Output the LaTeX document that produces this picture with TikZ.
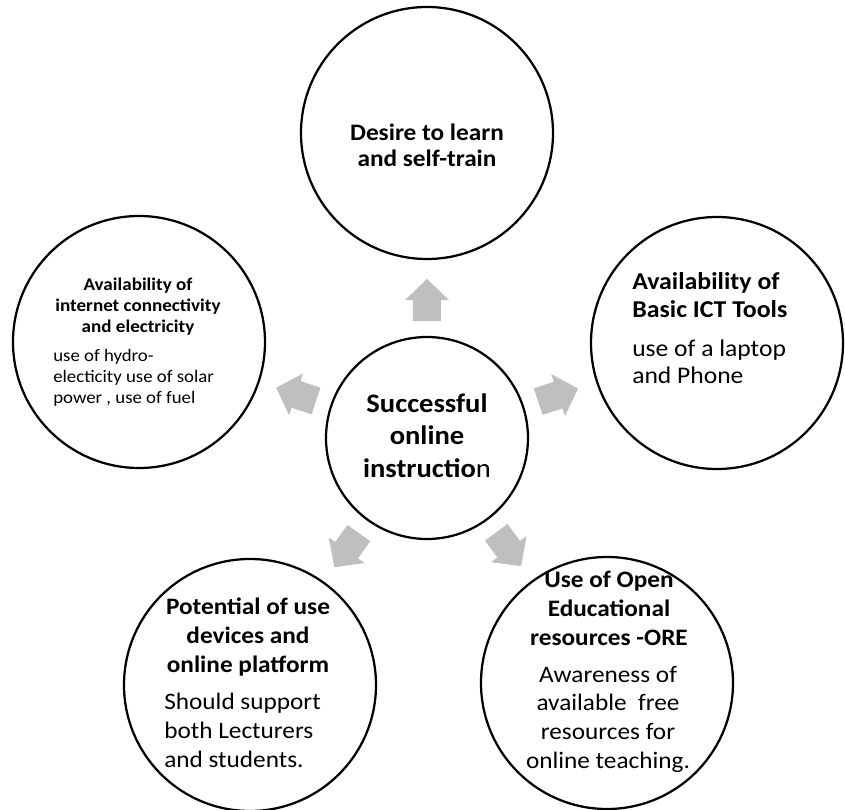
\documentclass[tikz,border=0pt]{standalone}
\usepackage{fontspec}
\setmainfont[FakeStretch=1.07]{Carlito}
\usetikzlibrary{calc}

\begin{document}
\begin{tikzpicture}
\tikzstyle{bubble} = [circle, draw = black, line width = 1.6pt, minimum size = 6.3cm, inner sep = 0pt]
\tikzstyle{spoke} = [fill = gray!50, to path = {
  ($(\tikztostart)!2.925cm!(\tikztotarget)!0.35cm!90:(\tikztotarget)$)
  -- ($(\tikztostart)!3.45cm!(\tikztotarget)!0.35cm!90:(\tikztotarget)$)
  -- ($(\tikztostart)!3.45cm!(\tikztotarget)!0.55cm!90:(\tikztotarget)$)
  -- ($(\tikztostart)!3.975cm!(\tikztotarget)$)
  -- ($(\tikztostart)!3.45cm!(\tikztotarget)!0.55cm!-90:(\tikztotarget)$)
  -- ($(\tikztostart)!3.45cm!(\tikztotarget)!0.35cm!-90:(\tikztotarget)$)
  -- ($(\tikztostart)!2.925cm!(\tikztotarget)!0.35cm!-90:(\tikztotarget)$) -- cycle}]
\tikzstyle{head} = [inner sep = 0pt, align = center, font = \bfseries\fontsize{16.8}{20.3}\selectfont]
\tikzstyle{body} = [inner sep = 0pt, align = left, font = \fontsize{16.8}{20.3}\selectfont]
\useasboundingbox (-10.675,-9.275) rectangle (10.45,10.95);
% the hub and the five circles round it
\node[bubble, minimum size = 5.05cm](hub){};
\node[bubble, above of = hub, yshift = 6.625cm](desire){};
\node[bubble, right of = hub, xshift = 6.25cm, yshift = 2.375cm](ictTools){};
\node[bubble, left of = hub, xshift = -6.2cm, yshift = 2.4cm](connect){};
\node[bubble, below of = hub, xshift = -4.425cm, yshift = -5.175cm](devices){};
\node[bubble, below of = hub, xshift = 4.5cm, yshift = -5.125cm](ore){};
% texts (placed by the baseline of their last line)
\node[head, anchor = base, font = \bfseries\fontsize{19}{22.8}\selectfont](hubText) at (0,-0.975){Successful\\online\\instructio\mdseries n};
\node[head, anchor = base, font = \bfseries\fontsize{16.8}{19}\selectfont](desireText) at ([yshift = -0.85cm]desire.center){Desire to learn\\and self-train};
\node[head, anchor = base west, align = left, font = \bfseries\fontsize{17.2}{19.6}\selectfont](ictHead) at ([shift = {(-2.125cm,0.65cm)}]ictTools.center){Availability of\\Basic ICT Tools};
\node[body, anchor = base west, font = \fontsize{17}{18.5}\selectfont](ictBody) at ([shift = {(-2.125cm,-1cm)}]ictTools.center){use of a laptop\\and Phone};
\node[head, anchor = base, font = \bfseries\fontsize{12.7}{14.6}\selectfont](connectHead) at ([shift = {(-0.025cm,0.25cm)}]connect.center){Availability of\\internet connectivity\\and electricity};
\node[body, anchor = base west, font = \fontsize{12.5}{14.6}\selectfont](connectBody) at ([shift = {(-2.15cm,-1.525cm)}]connect.center){use of hydro-\\electicity use of solar\\power , use of fuel};
\node[head, anchor = base](devicesHead) at ([shift = {(-0.05cm,0.325cm)}]devices.center){Potential of use\\devices and\\online platform};
\node[body, anchor = base west](devicesBody) at ([shift = {(-2.15cm,-2.05cm)}]devices.center){Should support\\both Lecturers\\and students.};
\node[head, anchor = base](oreHead) at ([shift = {(0.05cm,0.95cm)}]ore.center){Use of Open\\Educational\\resources -ORE};
\node[body, anchor = base, align = center](oreBody) at ([shift = {(0.025cm,-2.125cm)}]ore.center){Awareness of\\available\ \ free\\resources for\\online teaching.};
% block arrows going out from the hub
\path[spoke] (hub) to (desire);
\path[spoke] (hub) to (ictTools);
\path[spoke] (hub) to (connect);
\path[spoke] (hub) to (devices);
\path[spoke] (hub) to (ore);
\end{tikzpicture}
\end{document}
